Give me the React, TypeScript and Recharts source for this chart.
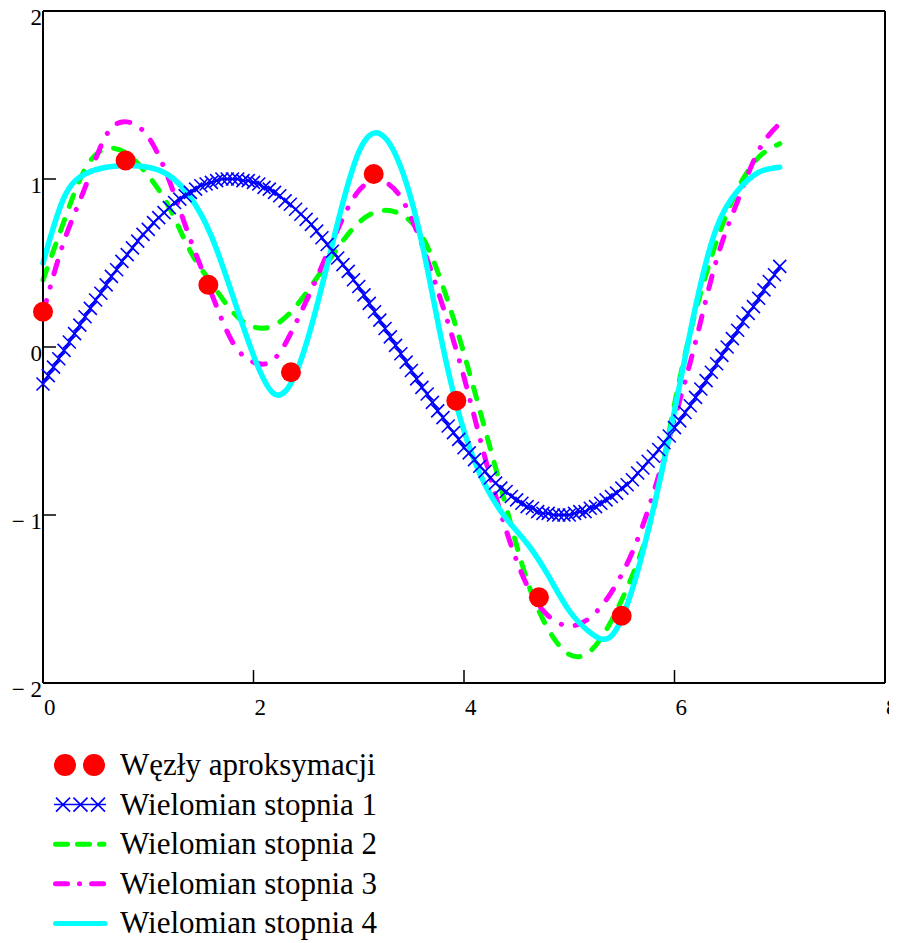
import React from 'react';
import { ComposedChart, Line, Scatter, XAxis, YAxis } from 'recharts';

const FONT = '"Liberation Serif", "Times New Roman", serif';

const X_TICKS = [0, 2, 4, 6, 8];
const Y_TICKS = [-2, -1, 0, 1, 2];

// approximation nodes
const NODE_X = [0, 0.785, 1.571, 2.356, 3.142, 3.927, 4.712, 5.498];
const NODE_Y = [0.21, 1.11, 0.37, -0.15, 1.03, -0.32, -1.49, -1.6];

const DEG1_STEP = 0.05;
const DEG1 = [
  -0.22, -0.17, -0.12, -0.07, -0.02, 0.03, 0.08, 0.13, 0.18, 0.23,
  0.28, 0.32, 0.37, 0.42, 0.46, 0.51, 0.55, 0.59, 0.63, 0.67,
  0.7, 0.74, 0.77, 0.8, 0.83, 0.86, 0.88, 0.9, 0.92, 0.94,
  0.96, 0.97, 0.98, 0.99, 1.0, 1.0, 1.0, 1.0, 0.99, 0.99,
  0.98, 0.97, 0.95, 0.94, 0.92, 0.9, 0.87, 0.85, 0.82, 0.79,
  0.76, 0.73, 0.69, 0.65, 0.61, 0.57, 0.53, 0.49, 0.45, 0.4,
  0.36, 0.31, 0.26, 0.21, 0.16, 0.11, 0.06, 0.01, -0.04, -0.09,
  -0.14, -0.19, -0.24, -0.28, -0.33, -0.38, -0.42, -0.47, -0.51, -0.55,
  -0.6, -0.63, -0.67, -0.71, -0.74, -0.78, -0.81, -0.84, -0.86, -0.89,
  -0.91, -0.93, -0.95, -0.96, -0.98, -0.99, -0.99, -1.0, -1.0, -1.0,
  -1.0, -0.99, -0.98, -0.98, -0.96, -0.95, -0.93, -0.91, -0.89, -0.87,
  -0.84, -0.82, -0.79, -0.75, -0.72, -0.68, -0.65, -0.61, -0.57, -0.53,
  -0.48, -0.44, -0.39, -0.35, -0.3, -0.25, -0.2, -0.15, -0.1, -0.05,
  0.0, 0.05, 0.1, 0.15, 0.2, 0.24, 0.29, 0.34, 0.39, 0.43, 0.48,
];

// degree 2..4 curves on a common x grid
const POLY_X = [
  0, 0.2, 0.4, 0.6, 0.8, 1, 1.2, 1.4, 1.6, 1.8, 2, 2.2, 2.4, 2.6, 2.8, 3, 3.2, 3.4,
  3.6, 3.8, 4, 4.2, 4.4, 4.6, 4.8, 5, 5.2, 5.4, 5.6, 5.8, 6, 6.2, 6.4, 6.6, 6.8, 7,
];
const DEG2 = [
  0.4, 0.75, 1.06, 1.18, 1.15, 1.02, 0.83, 0.57, 0.38, 0.21, 0.12, 0.13, 0.24, 0.41, 0.59, 0.74, 0.81, 0.79,
  0.66, 0.36, -0.04, -0.49, -0.95, -1.39, -1.68, -1.83, -1.81, -1.63, -1.36, -0.97, -0.34, 0.21, 0.63, 0.94, 1.13, 1.21,
];
const DEG3 = [
  0.2, 0.63, 0.95, 1.26, 1.34, 1.25, 0.99, 0.64, 0.32, 0.03, -0.09, -0.07, 0.14, 0.41, 0.7, 0.93, 0.99, 0.89,
  0.61, 0.24, -0.18, -0.66, -1.09, -1.42, -1.6, -1.66, -1.61, -1.46, -1.22, -0.87, -0.43, 0.03, 0.52, 0.87, 1.17, 1.33,
];
const DEG4 = [
  0.5, 0.89, 1.03, 1.07, 1.08, 1.07, 1.02, 0.89, 0.66, 0.31, -0.05, -0.28, -0.16, 0.24, 0.74, 1.16, 1.27, 1.07,
  0.62, 0.0, -0.5, -0.82, -1.02, -1.17, -1.36, -1.57, -1.7, -1.72, -1.44, -0.96, -0.38, 0.24, 0.71, 0.93, 1.04, 1.07,
];

const LABELS = [
  'Węzły aproksymacji',
  'Wielomian stopnia 1',
  'Wielomian stopnia 2',
  'Wielomian stopnia 3',
  'Wielomian stopnia 4',
];

const nodes = NODE_X.map((x, i) => ({ x, y: NODE_Y[i] }));
const deg1 = DEG1.map((y, i) => ({ x: +(i * DEG1_STEP).toFixed(2), y }));
const deg2 = POLY_X.map((x, i) => ({ x, y: DEG2[i] }));
const deg3 = POLY_X.map((x, i) => ({ x, y: DEG3[i] }));
const deg4 = POLY_X.map((x, i) => ({ x, y: DEG4[i] }));

const TICK_LEN = 13;
const fmt = (v: number) => (v < 0 ? `\u2212 ${Math.abs(v)}` : `${v}`);

const BottomTick = ({ x, y, payload }: any) => (
  <g>
    <line x1={x} y1={y} x2={x} y2={y - TICK_LEN} stroke="#000" strokeWidth={1.5} />
    <text x={x + 1} y={y + 32} fontFamily={FONT} fontSize={23} fill="#000" textAnchor="start">
      {fmt(payload.value)}
    </text>
  </g>
);

const LeftTick = ({ x, y, payload }: any) => (
  <g>
    <line x1={x} y1={y} x2={x + TICK_LEN} y2={y} stroke="#000" strokeWidth={1.5} />
    <text x={x - 1} y={y + 14} fontFamily={FONT} fontSize={23} fill="#000" textAnchor="end">
      {fmt(payload.value)}
    </text>
  </g>
);

const TopTick = ({ x, y }: any) => (
  <line x1={x} y1={y} x2={x} y2={y + TICK_LEN} stroke="#000" strokeWidth={1.5} />
);

const RightTick = ({ x, y }: any) => (
  <line x1={x} y1={y} x2={x - TICK_LEN} y2={y} stroke="#000" strokeWidth={1.5} />
);

const crossPath = (cx: number, cy: number, a: number) =>
  `M${cx - a},${cy - a}L${cx + a},${cy + a}M${cx - a},${cy + a}L${cx + a},${cy - a}`;

const CrossDot = (props: any) => {
  const { cx, cy, index } = props;
  if (cx == null || cy == null) return null;
  return (
    <path key={`cross-${index}`} d={crossPath(cx, cy, 6.5)} stroke="#0000ff" strokeWidth={1.6} fill="none" />
  );
};

const NodeDot = (props: any) => <circle cx={props.cx} cy={props.cy} r={10} fill="#ff0000" />;

function LegendBlock() {
  const rowY = (i: number) => 37 + i * 39.6;
  return (
    <svg width={420} height={215} style={{ display: 'block' }}>
      {/* nodes */}
      <circle cx={57} cy={rowY(0)} r={11} fill="#ff0000" />
      <circle cx={86} cy={rowY(0)} r={11} fill="#ff0000" />
      {/* degree 1 */}
      <line x1={46} y1={rowY(1)} x2={98} y2={rowY(1)} stroke="#0000ff" strokeWidth={1.5} />
      {[55, 72.5, 90].map((cx) => (
        <path key={cx} d={crossPath(cx, rowY(1), 7)} stroke="#0000ff" strokeWidth={1.6} fill="none" />
      ))}
      {/* degree 2 */}
      <line x1={47.5} y1={rowY(2)} x2={96} y2={rowY(2)} stroke="#00ff00" strokeWidth={5}
        strokeLinecap="round" strokeDasharray="12 10" />
      {/* degree 3 */}
      <line x1={47.5} y1={rowY(3)} x2={96} y2={rowY(3)} stroke="#ff00ff" strokeWidth={5}
        strokeLinecap="round" strokeDasharray="12 12 0.1 12" />
      {/* degree 4 */}
      <line x1={47.5} y1={rowY(4)} x2={97} y2={rowY(4)} stroke="#00ffff" strokeWidth={5} strokeLinecap="round" />
      {LABELS.map((label, i) => (
        <text key={label} x={112} y={rowY(i) + 10} fontFamily={FONT} fontSize={31} fill="#000">
          {label}
        </text>
      ))}
    </svg>
  );
}

export default function App() {
  return (
    <div style={{ width: 881, background: '#fff' }}>
      <ComposedChart width={881} height={720} margin={{ top: 0, right: 0, bottom: 8, left: 0 }}>
        <XAxis
          xAxisId="main"
          dataKey="x"
          type="number"
          domain={[0, 8]}
          ticks={X_TICKS}
          interval={0}
          height={37}
          tickSize={0}
          tickMargin={0}
          tickLine={false}
          axisLine={{ stroke: '#000', strokeWidth: 2 }}
          tick={BottomTick}
        />
        <XAxis
          xAxisId="top"
          orientation="top"
          dataKey="x"
          type="number"
          domain={[0, 8]}
          ticks={X_TICKS}
          interval={0}
          height={3}
          tickSize={0}
          tickMargin={0}
          tickLine={false}
          axisLine={{ stroke: '#000', strokeWidth: 2 }}
          tick={TopTick}
        />
        <YAxis
          yAxisId="main"
          type="number"
          domain={[-2, 2]}
          ticks={Y_TICKS}
          interval={0}
          width={35}
          tickSize={0}
          tickMargin={0}
          tickLine={false}
          axisLine={{ stroke: '#000', strokeWidth: 2 }}
          tick={LeftTick}
        />
        <YAxis
          yAxisId="right"
          orientation="right"
          type="number"
          domain={[-2, 2]}
          ticks={Y_TICKS}
          interval={0}
          width={4}
          tickSize={0}
          tickMargin={0}
          tickLine={false}
          axisLine={{ stroke: '#000', strokeWidth: 2 }}
          tick={RightTick}
        />

        <Scatter
          xAxisId="main"
          yAxisId="main"
          data={nodes}
          dataKey="y"
          shape={NodeDot}
          isAnimationActive={false}
        />
        <Line
          xAxisId="main"
          yAxisId="main"
          data={deg1}
          dataKey="y"
          type="linear"
          stroke="#0000ff"
          strokeWidth={2}
          dot={CrossDot}
          activeDot={false}
          isAnimationActive={false}
        />
        <Line
          xAxisId="main"
          yAxisId="main"
          data={deg2}
          dataKey="y"
          type="natural"
          stroke="#00ff00"
          strokeWidth={5}
          strokeLinecap="round"
          strokeDasharray="12 14"
          dot={false}
          activeDot={false}
          isAnimationActive={false}
        />
        <Line
          xAxisId="main"
          yAxisId="main"
          data={deg3}
          dataKey="y"
          type="natural"
          stroke="#ff00ff"
          strokeWidth={5}
          strokeLinecap="round"
          strokeDasharray="13 14 0.1 14"
          dot={false}
          activeDot={false}
          isAnimationActive={false}
        />
        <Line
          xAxisId="main"
          yAxisId="main"
          data={deg4}
          dataKey="y"
          type="natural"
          stroke="#00ffff"
          strokeWidth={5.5}
          strokeLinecap="round"
          dot={false}
          activeDot={false}
          isAnimationActive={false}
        />
      </ComposedChart>
      <LegendBlock />
    </div>
  );
}
